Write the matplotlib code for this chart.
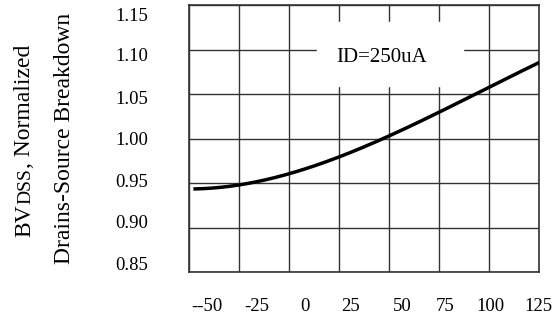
import matplotlib.pyplot as plt
import numpy as np

plt.rcParams['font.family'] = ['Liberation Serif', 'DejaVu Serif']

# ---------------- data ----------------
temp = [-47, -25, 0, 25, 50, 75, 100, 125]
bvdss = [0.943, 0.949, 0.959, 0.981, 1.002, 1.029, 1.059, 1.085]

# grid lines
x_grid = [-50, -25, 0, 25, 50, 75, 100, 125]
y_grid = [0.85, 0.90, 0.95, 1.00, 1.05, 1.10, 1.15]
# the printed labels sit a bit off the grid in the original
x_label_pos = [-41, -16, 8, 30.5, 56.5, 78, 100.5, 124.5]
x_labels = ["--50", "-25", "0", "25", "50", "75", "100", "125"]
y_label_pos = [0.860, 0.907, 0.953, 1.0006, 1.0466, 1.094, 1.139]
y_labels = ["0.85", "0.90", "0.95", "1.00", "1.05", "1.10", "1.15"]

fig = plt.figure(figsize=(5.53, 3.2), dpi=100)
ax = fig.add_axes([0.342, 0.15, 0.633, 0.834])

# smooth the curve through the read points
xs = np.linspace(temp[0], temp[-1], 200)
coef = np.polyfit(temp, bvdss, 3)
ax.plot(xs, np.polyval(coef, xs), color="black", lw=2.5, zorder=4)

ax.set_xlim(-50, 125)
ax.set_ylim(0.85, 1.15)
ax.set_xticks(x_label_pos)
ax.set_xticklabels(x_labels)
ax.set_yticks(y_label_pos)
ax.set_yticklabels(y_labels)
ax.set_xticks(x_grid, minor=True)
ax.set_yticks(y_grid, minor=True)
ax.tick_params(which="both", length=0, labelsize=13.5)
ax.tick_params(axis="y", pad=29.5)
ax.tick_params(axis="x", pad=19)
ax.grid(True, which="minor", color="#333333", lw=1.0)
for s in ax.spines.values():
    s.set_color("#333333")
    s.set_linewidth(1.2)

# white label box that cuts the grid
ax.fill_between([14, 87], 1.059, 1.131, color="white", zorder=3)
ax.text(46, 1.0916, "ID=250uA", ha="center", va="center", fontsize=15, zorder=5)

# y label: two rotated lines, "DSS" smaller
fig.canvas.draw()
r = fig.canvas.get_renderer()
x1 = 30 / 553
yy = (320 - 237) / 320
pieces = [("BV", 17), ("DSS", 14), (", Normalized", 17)]
for txt, fs in pieces:
    t = fig.text(x1, yy, txt, rotation=90, fontsize=fs, ha="left", va="baseline",
                 rotation_mode="anchor")
    bb = t.get_window_extent(r)
    yy += bb.height / fig.bbox.height
fig.text(70 / 553, (320 - 138) / 320, "Drains-Source Breakdown", rotation=90,
         fontsize=17, ha="center", va="baseline", rotation_mode="anchor")

fig.savefig("out.png", dpi=100)
